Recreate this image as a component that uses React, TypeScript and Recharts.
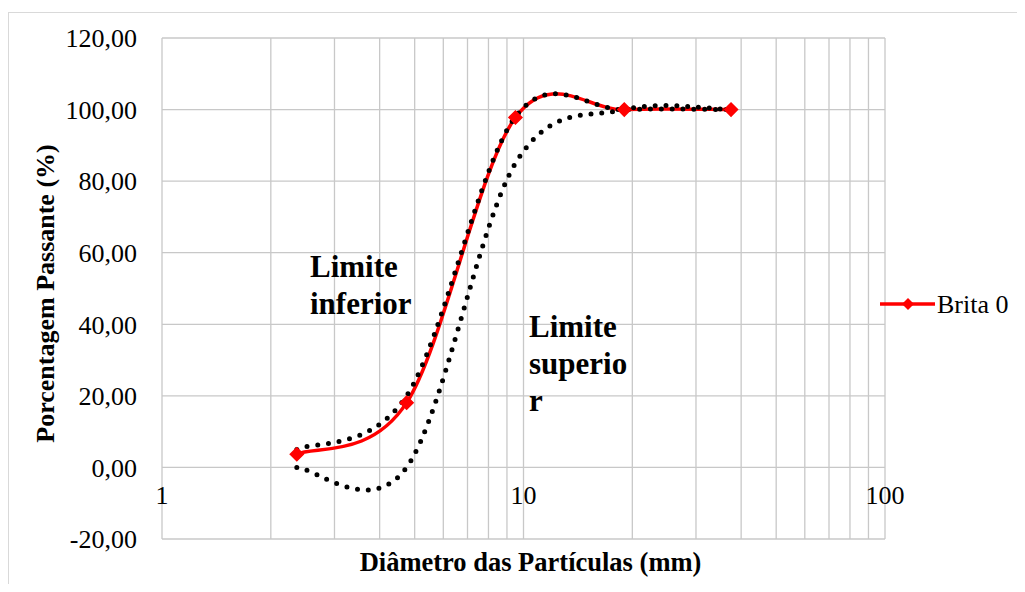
import { LineChart, Line, XAxis, YAxis, CartesianGrid, Legend, Label } from 'recharts';

// peneiras (mm) e % passante
const sieves = [2.36, 4.75, 9.5, 19, 37.5];
const brita0 = [3.7, 18.1, 97.8, 100, 100];
const limiteInferior = [5, 20, 98, 100, 100];
const limiteSuperior = [0, 0, 85, 100, 100];

const xTicks = [1, 2, 3, 4, 5, 6, 7, 8, 9, 10, 20, 30, 40, 50, 60, 70, 80, 90, 100];
const xLabels = [1, 10, 100];
const yTicks = [-20, 0, 20, 40, 60, 80, 100, 120];

const data = sieves.map((d, i) => ({
  d,
  brita0: brita0[i],
  inf: limiteInferior[i],
  sup: limiteSuperior[i],
}));

// Excel-like smoothed line (Catmull-Rom as cubic bezier)
const excelSmooth = (context: any) => {
  let pts: number[][] = [];
  return {
    areaStart() {},
    areaEnd() {},
    lineStart() {
      pts = [];
    },
    point(x: number, y: number) {
      pts.push([+x, +y]);
    },
    lineEnd() {
      const n = pts.length;
      if (!n) return;
      context.moveTo(pts[0][0], pts[0][1]);
      for (let i = 0; i < n - 1; i++) {
        const p0 = pts[Math.max(i - 1, 0)];
        const p1 = pts[i];
        const p2 = pts[i + 1];
        const p3 = pts[Math.min(i + 2, n - 1)];
        context.bezierCurveTo(
          p1[0] + (p2[0] - p0[0]) / 6,
          p1[1] + (p2[1] - p0[1]) / 6,
          p2[0] - (p3[0] - p1[0]) / 6,
          p2[1] - (p3[1] - p1[1]) / 6,
          p2[0],
          p2[1]
        );
      }
    },
  };
};

const diamondPath = (cx: number, cy: number, s: number) =>
  `M${cx},${cy - s}L${cx + s},${cy}L${cx},${cy + s}L${cx - s},${cy}Z`;

const XTick = ({ x, y, payload }: any) =>
  xLabels.includes(payload.value) ? (
    <text x={x} y={y - 44} dy="0.355em" textAnchor="middle" fontSize={26} fill="#000">
      {payload.value}
    </text>
  ) : (
    <g />
  );

const fmt = (v: number) => v.toFixed(2).replace('.', ',');

const noteStyle: React.CSSProperties = {
  position: 'absolute',
  fontSize: 31,
  fontWeight: 'bold',
  lineHeight: '37px',
  color: '#000',
  whiteSpace: 'nowrap',
};

export default function App() {
  return (
    <div style={{ paddingTop: 4 }}>
      <div
        style={{
          position: 'relative',
          width: 1008,
          height: 579,
          marginBottom: -8,
          borderTop: '1px solid #d9d9d9',
          borderLeft: '1px solid #d9d9d9',
          overflow: 'hidden',
          fontFamily: '"Liberation Serif", "Times New Roman", serif',
          background: '#fff',
        }}
      >
        <LineChart width={1008} height={571} data={data} margin={{ top: 25, right: 132, bottom: 0, left: 0 }}>
          <CartesianGrid stroke="#c8c8c8" strokeWidth={1.3} />
          <XAxis
            dataKey="d"
            type="number"
            scale="log"
            domain={[1, 100]}
            allowDataOverflow
            ticks={xTicks}
            interval={0}
            tick={<XTick />}
            tickLine={false}
            axisLine={false}
            tickSize={0}
            tickMargin={0}
            height={45}
          >
            <Label
              content={({ viewBox }: any) => (
                <text
                  x={viewBox.x + viewBox.width / 2 + 7}
                  y={viewBox.y + 23}
                  dy="0.355em"
                  textAnchor="middle"
                  fontSize={26.5}
                  fontWeight="bold"
                  fill="#000"
                >
                  Diâmetro das Partículas (mm)
                </text>
              )}
            />
          </XAxis>
          <YAxis
            type="number"
            domain={[-20, 120]}
            ticks={yTicks}
            interval={0}
            tickFormatter={fmt}
            tick={{ fontSize: 26, fill: '#000' }}
            tickLine={false}
            axisLine={false}
            tickSize={0}
            tickMargin={25}
            width={153}
          >
            <Label
              content={({ viewBox }: any) => {
                const cx = viewBox.x + 36;
                const cy = viewBox.y + viewBox.height / 2 + 5;
                return (
                  <text
                    x={cx}
                    y={cy}
                    dy="0.355em"
                    transform={`rotate(-90 ${cx} ${cy})`}
                    textAnchor="middle"
                    fontSize={26}
                    fontWeight="bold"
                    fill="#000"
                  >
                    Porcentagem Passante (%)
                  </text>
                );
              }}
            />
          </YAxis>
          <Line
            dataKey="brita0"
            name="Brita 0"
            type={excelSmooth as any}
            stroke="#ff0000"
            strokeWidth={3.5}
            strokeLinecap="round"
            dot={(p: any) => (
              <path
                key={`dm-${p.index}`}
                d={diamondPath(p.cx, p.cy, 6.5)}
                fill="#ff0000"
                stroke="#ff0000"
                strokeWidth={1.5}
              />
            )}
            activeDot={false}
            isAnimationActive={false}
          />
          <Line
            dataKey="inf"
            name="Limite inferior"
            type={excelSmooth as any}
            stroke="#000"
            strokeWidth={5}
            strokeDasharray="0 10.8"
            strokeLinecap="round"
            dot={false}
            activeDot={false}
            legendType="none"
            isAnimationActive={false}
          />
          <Line
            dataKey="sup"
            name="Limite superior"
            type={excelSmooth as any}
            stroke="#000"
            strokeWidth={5}
            strokeDasharray="0 10.8"
            strokeLinecap="round"
            dot={false}
            activeDot={false}
            legendType="none"
            isAnimationActive={false}
          />
          <Legend
            layout="horizontal"
            align="center"
            verticalAlign="middle"
            wrapperStyle={{ left: 871, top: 276, width: 140, height: 30 }}
            content={({ payload }: any) => (
              <svg width={140} height={30}>
                {(payload || [])
                  .filter((e: any) => e.type !== 'none')
                  .map((e: any) => (
                    <g key={e.value}>
                      <line x1={0} y1={15} x2={55} y2={15} stroke={e.color} strokeWidth={3.5} />
                      <path d={diamondPath(28, 15, 6)} fill={e.color} />
                      <text x={57} y={15} dy="0.355em" fontSize={26} fill="#000">
                        {e.value}
                      </text>
                    </g>
                  ))}
              </svg>
            )}
          />
        </LineChart>
        <div style={{ ...noteStyle, left: 301, top: 235 }}>
          Limite
          <br />
          inferior
        </div>
        <div style={{ ...noteStyle, left: 520, top: 295 }}>
          Limite
          <br />
          superio
          <br />r
        </div>
      </div>
    </div>
  );
}
